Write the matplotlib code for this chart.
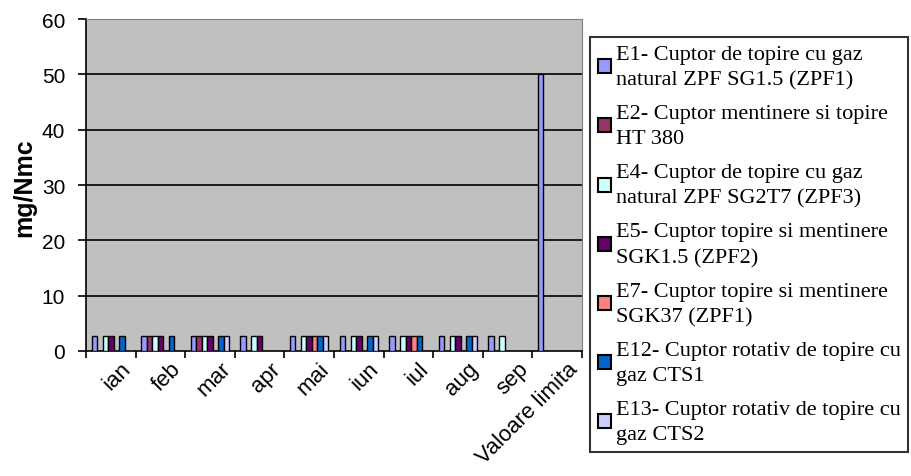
import numpy as np
import matplotlib
matplotlib.use("Agg")
import matplotlib.pyplot as plt
from matplotlib.patches import Patch

nan = np.nan
categories = ['ian', 'feb', 'mar', 'apr', 'mai', 'iun', 'iul', 'aug', 'sep', 'Valoare limita']
series_names = [
    'E1- Cuptor de topire cu gaz\nnatural ZPF SG1.5 (ZPF1)',
    'E2- Cuptor mentinere si topire\nHT 380',
    'E4- Cuptor de topire cu gaz\nnatural ZPF SG2T7 (ZPF3)',
    'E5- Cuptor topire si mentinere\nSGK1.5 (ZPF2)',
    'E7- Cuptor topire si mentinere\nSGK37 (ZPF1)',
    'E12- Cuptor rotativ de topire cu\ngaz CTS1',
    'E13- Cuptor rotativ de topire cu\ngaz CTS2',
]
E1 = [2.8, 2.8, 2.8, 2.8, 2.8, 2.8, 2.8, 2.8, 2.8, 50]
E2 = [nan, 2.8, 2.8, nan, nan, nan, nan, nan, nan, nan]
E4 = [2.8, 2.8, 2.8, 2.8, 2.8, 2.8, 2.8, 2.8, 2.8, nan]
E5 = [2.8, 2.8, 2.8, 2.8, 2.8, 2.8, 2.8, 2.8, nan, nan]
E7 = [nan, nan, nan, nan, 2.8, nan, 2.8, nan, nan, nan]
E12 = [2.8, 2.8, 2.8, nan, 2.8, 2.8, 2.8, 2.8, nan, nan]
E13 = [nan, nan, 2.8, nan, 2.8, 2.8, nan, 2.8, nan, nan]
series = [E1, E2, E4, E5, E7, E12, E13]
colors = ['#9999FF', '#993366', '#CCFFFF', '#660066', '#FF8080', '#0066CC', '#CCCCFF']

fig = plt.figure(figsize=(9.11, 4.77), dpi=100)
ax = fig.add_axes([86/911, 1 - 352/477, 496/911, 332/477])
ax.set_facecolor('#C0C0C0')

n = len(series)
w = 1.0 / (n + 2)
x = np.arange(len(categories))
for i, (vals, col) in enumerate(zip(series, colors)):
    v = np.array(vals, dtype=float)
    m = ~np.isnan(v)
    ax.bar(x[m] + (i - (n - 1) / 2) * w, v[m], width=w, color=col,
           edgecolor='black', linewidth=1.0, zorder=3)

ax.set_xlim(-0.5, len(categories) - 0.5)
ax.set_ylim(0, 60)
ax.set_yticks(np.arange(0, 61, 10))
for yv in range(10, 60, 10):
    ax.axhline(yv, color='black', linewidth=1.2, zorder=1)

ax.set_xticks(np.arange(-0.5, len(categories), 1.0))
ax.set_xticklabels([])
# label anchors nudged right of the category centre, as in the original
ax.set_xticks(x + 0.2, minor=True)
ax.set_xticklabels(categories, minor=True, rotation=45, ha='right', va='top',
                   rotation_mode='anchor', fontsize=16, family='Liberation Sans')
ax.tick_params(axis='x', which='major', direction='out', length=5, width=1.2, color='black')
ax.tick_params(axis='x', which='minor', length=0, pad=5)
ax.tick_params(axis='y', direction='out', length=6, width=1.2, color='black',
               labelsize=15, pad=9)
for lab in ax.get_yticklabels():
    lab.set_family('Liberation Sans')

ax.spines['left'].set_color('black')
ax.spines['bottom'].set_color('black')
ax.spines['left'].set_linewidth(1.2)
ax.spines['bottom'].set_linewidth(1.2)
ax.spines['top'].set_color('#808080')
ax.spines['right'].set_color('#808080')

fig.text(24/911, 1 - 188/477, 'mg/Nmc', rotation=90, ha='center', va='center',
         fontsize=18, fontweight='bold', family='Liberation Sans')

handles = [Patch(facecolor=c, edgecolor='black', linewidth=1.5) for c in colors]
leg = fig.legend(handles, series_names, loc='upper left',
                 bbox_to_anchor=(590/911, 1 - 38/477),
                 prop={'family': 'Liberation Serif', 'size': 16},
                 frameon=True, fancybox=False, edgecolor='black',
                 handlelength=0.6, handleheight=0.6, handletextpad=0.2,
                 labelspacing=0.66, borderpad=0.35, borderaxespad=0)
leg.get_frame().set_linewidth(1.5)
for t in leg.get_texts():
    t.set_linespacing(1.45)

fig.savefig('out.png', dpi=100)
